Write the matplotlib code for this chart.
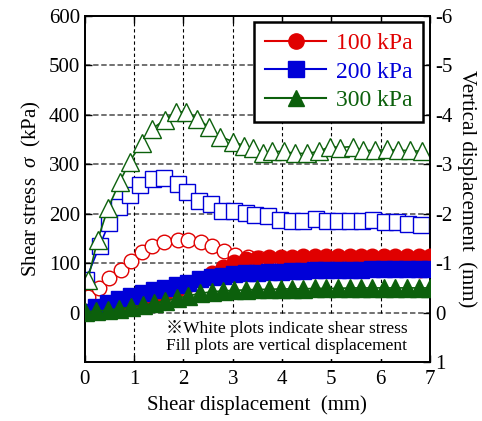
import matplotlib
matplotlib.use("Agg")
import matplotlib.pyplot as plt
from matplotlib.lines import Line2D

plt.rcParams['font.family'] = ['Liberation Serif', 'Noto Sans CJK JP']
plt.rcParams['mathtext.fontset'] = 'custom'
plt.rcParams['mathtext.it'] = 'Liberation Serif:italic'
plt.rcParams['mathtext.rm'] = 'Liberation Serif'
plt.rcParams['axes.unicode_minus'] = False

labels = ['100 kPa', '200 kPa', '300 kPa']
colors = ['#e00000', '#0000d8', '#0c600c']
markers = ['o', 's', '^']

# shear stress (open markers), kPa
x_s100 = [0.06, 0.29, 0.50, 0.73, 0.93, 1.15, 1.37, 1.60, 1.88, 2.10, 2.35, 2.58, 2.82, 3.05,
          3.30, 3.53, 3.77, 4.00, 4.23, 4.47, 4.70, 4.93, 5.17, 5.40, 5.63, 5.87, 6.10, 6.33, 6.57, 6.80]
s100 = [32, 50, 70, 87, 105, 123, 135, 143, 147, 147, 143, 135, 125, 117,
        113, 110, 107, 104, 101, 99, 97, 95, 94, 93, 92, 90, 89, 88, 88, 87]

x_s200 = [0.02, 0.30, 0.49, 0.69, 0.91, 1.11, 1.38, 1.60, 1.88, 2.08, 2.31, 2.55, 2.79, 3.02,
          3.26, 3.46, 3.72, 3.96, 4.20, 4.43, 4.68, 4.92, 5.14, 5.38, 5.63, 5.85, 6.09, 6.34, 6.56, 6.82]
s200 = [66, 135, 181, 213, 237, 258, 270, 272, 260, 245, 225, 219, 205, 205,
        201, 197, 195, 187, 185, 185, 189, 185, 185, 185, 185, 187, 183, 183, 179, 177]

x_s300 = [0.06, 0.26, 0.47, 0.71, 0.91, 1.15, 1.37, 1.62, 1.84, 2.06, 2.28, 2.51, 2.75, 3.00,
          3.22, 3.42, 3.62, 3.80, 4.03, 4.27, 4.51, 4.74, 4.98, 5.18, 5.43, 5.65, 5.89, 6.13, 6.36, 6.60, 6.84]
s300 = [66, 147, 211, 265, 305, 344, 372, 390, 406, 406, 392, 376, 356, 346,
        338, 332, 322, 326, 326, 322, 322, 326, 336, 334, 336, 328, 328, 330, 328, 328, 326]

# vertical displacement (filled markers), mm
x_d = [0.00, 0.23, 0.47, 0.70, 0.93, 1.17, 1.40, 1.63, 1.87, 2.10, 2.33, 2.57, 2.80, 3.03, 3.27, 3.50,
       3.73, 3.97, 4.20, 4.43, 4.67, 4.90, 5.13, 5.37, 5.60, 5.83, 6.07, 6.30, 6.53, 6.77, 7.00]
d100 = [0.00, -0.04, -0.09, -0.14, -0.20, -0.26, -0.31, -0.37, -0.45, -0.56, -0.68, -0.80, -0.93, -1.03,
        -1.08, -1.11, -1.12, -1.13, -1.13, -1.14, -1.14, -1.14, -1.15, -1.15, -1.15, -1.15, -1.15,
        -1.15, -1.15, -1.15, -1.15]
d200 = [-0.02, -0.12, -0.20, -0.27, -0.34, -0.40, -0.45, -0.50, -0.55, -0.60, -0.68, -0.72, -0.75, -0.78,
        -0.80, -0.81, -0.82, -0.83, -0.84, -0.85, -0.86, -0.86, -0.87, -0.87, -0.87, -0.88, -0.88,
        -0.88, -0.88, -0.88, -0.88]
d300 = [-0.02, -0.03, -0.05, -0.08, -0.11, -0.15, -0.19, -0.24, -0.29, -0.34, -0.39, -0.42, -0.44, -0.45,
        -0.46, -0.47, -0.47, -0.48, -0.48, -0.48, -0.49, -0.49, -0.49, -0.50, -0.50, -0.50, -0.50,
        -0.50, -0.50, -0.50, -0.50]

stress = [(x_s100, s100), (x_s200, s200), (x_s300, s300)]
disp = [d100, d200, d300]
msizes = [10.5, 11.5, 13]

fig = plt.figure(figsize=(4.82, 4.21), dpi=100)
ax = fig.add_axes([0.176, 0.140, 0.716, 0.822])
ax2 = ax.twinx()

ax.set_xlim(0, 7)
ax.set_ylim(-100, 600)
ax2.set_ylim(1, -6)

# grid
for yv in [0, 100, 200, 300, 400, 500]:
    ax.axhline(yv, color='0.4', lw=1.3, dashes=(3, 1.5), zorder=1)
for xv in [1, 2, 3, 4, 5, 6]:
    ax.axvline(xv, color='black', lw=0.8, dashes=(3, 2.5), zorder=1)

for (xs, ys), c, m, ms in zip(stress, colors, markers, msizes):
    ax.plot(xs, ys, color=c, lw=1.2, marker=m, markersize=ms, markerfacecolor='white',
            markeredgecolor=c, markeredgewidth=1.0, zorder=3)

for ys, c, m, ms in zip(disp, colors, markers, msizes):
    ax2.plot(x_d, ys, color=c, lw=1.2, marker=m, markersize=ms, markerfacecolor=c,
             markeredgecolor=c, zorder=3)

ax.set_yticks([0, 100, 200, 300, 400, 500, 600])
ax.set_xticks(range(8))
ax2.set_yticks(range(-6, 2))

ax.tick_params(axis='both', direction='in', length=5, width=1, labelsize=15, top=True)
ax.tick_params(axis='x', pad=6)
ax2.tick_params(axis='y', direction='in', length=5, width=1, labelsize=15)
for a in (ax, ax2):
    for sp in a.spines.values():
        sp.set_linewidth(1.3)

ax.set_xlabel('Shear displacement  (mm)', fontsize=15, labelpad=4)
ax.set_ylabel('Shear stress  $\\it{\\sigma}$  (kPa)', fontsize=15, labelpad=4)
ax2.set_ylabel('Vertical displacement  (mm)', fontsize=15, rotation=270, labelpad=18)

ax2.text(4.1, -50, '※White plots indicate shear stress\nFill plots are vertical displacement',
         transform=ax.transData, ha='center', va='center', fontsize=12.5, linespacing=1.1,
         bbox=dict(facecolor='white', edgecolor='none', pad=3), zorder=10)

handles = [Line2D([], [], color=c, marker=m, markersize=ms, lw=1.5, markerfacecolor=c)
           for c, m, ms in zip(colors, markers, [11, 11, 12])]
leg = ax2.legend(handles, labels, loc='upper right', bbox_to_anchor=(0.98, 0.983), fontsize=17,
                 frameon=True, fancybox=False, edgecolor='black', framealpha=1,
                 handlelength=2.6, handletextpad=0.4, borderpad=0.45, labelspacing=0.3,
                 labelcolor='linecolor', borderaxespad=0)
leg.get_frame().set_linewidth(1.8)
leg.set_zorder(20)

fig.savefig('out.png', dpi=100)
